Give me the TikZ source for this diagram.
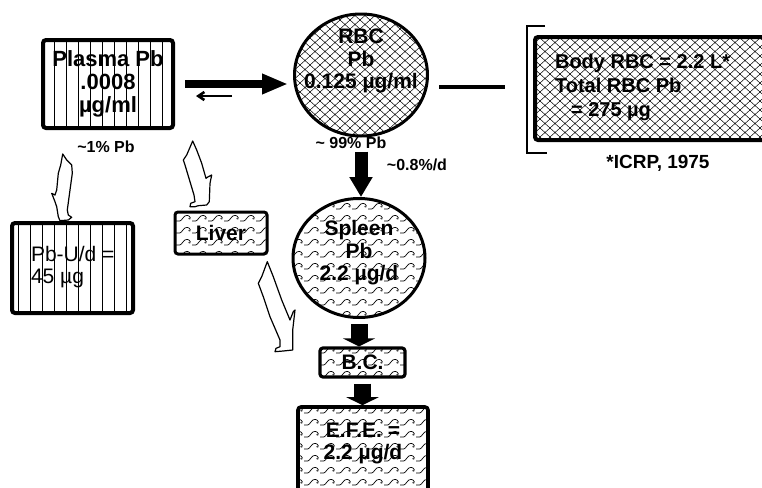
\documentclass[tikz,border=0pt]{standalone}
\usepackage{fontspec}
\setmainfont{Liberation Sans}
\usetikzlibrary{arrows.meta,shapes.geometric,patterns}

% fill patterns
\pgfdeclarepatternformonly{vlines}{\pgfpoint{-0.5pt}{-0.5pt}}{\pgfpoint{6.5pt}{6.5pt}}{\pgfpoint{6pt}{6pt}}{
  \pgfsetlinewidth{0.4pt}
  \pgfpathmoveto{\pgfpoint{3pt}{-0.5pt}}\pgfpathlineto{\pgfpoint{3pt}{6.5pt}}
  \pgfusepath{stroke}}
\pgfdeclarepatternformonly{chainlink}{\pgfpoint{-0.2pt}{-0.2pt}}{\pgfpoint{5.2pt}{4.7pt}}{\pgfpoint{5pt}{4.5pt}}{
  \pgfsetlinewidth{0.25pt}
  \pgfpathmoveto{\pgfpointorigin}\pgfpathlineto{\pgfpoint{5pt}{4.5pt}}
  \pgfpathmoveto{\pgfpoint{0pt}{4.5pt}}\pgfpathlineto{\pgfpoint{5pt}{0pt}}
  \pgfusepath{stroke}}
\pgfdeclarepatternformonly{waves}{\pgfpoint{-0.5pt}{-0.5pt}}{\pgfpoint{8.5pt}{6.5pt}}{\pgfpoint{8pt}{6pt}}{
  \pgfsetlinewidth{0.35pt}
  \pgfpathmoveto{\pgfpoint{0pt}{1.5pt}}
  \pgfpathcurveto{\pgfpoint{1.5pt}{1pt}}{\pgfpoint{2.5pt}{1.5pt}}{\pgfpoint{3.5pt}{3pt}}
  \pgfpathcurveto{\pgfpoint{4.5pt}{4.7pt}}{\pgfpoint{6.6pt}{4.7pt}}{\pgfpoint{7.1pt}{3.2pt}}
  \pgfpathcurveto{\pgfpoint{7.4pt}{2.5pt}}{\pgfpoint{6.6pt}{2.1pt}}{\pgfpoint{6.2pt}{2.7pt}}
  \pgfusepath{stroke}}

\begin{document}
\begin{tikzpicture}[x=0.5pt,y=-0.5pt,
  box/.style={draw,line width=1.8pt,rounded corners=1.5pt,inner sep=0pt},
  lined/.style={pattern=vlines},
  mesh/.style={pattern=chainlink},
  wavy/.style={pattern=waves},
  txt/.style={font=\bfseries\fontsize{10.5}{11.25}\selectfont,align=center},
  small/.style={font=\bfseries\fontsize{8}{9}\selectfont},
  hollow/.style={draw,fill=white,line width=0.6pt,line join=round}]
\useasboundingbox (0,0) rectangle (762,488);
% compartments
\node[box,lined,line width=2pt,minimum width=65pt,minimum height=44pt,
  font=\bfseries\fontsize{11}{11.5}\selectfont,align=center] (plasma) at (108,84) {Plasma Pb\\.0008\\µg/ml};
\node[draw,ellipse,line width=1.5pt,mesh,minimum width=66.5pt,minimum height=61pt,inner sep=0pt] (rbc) at (361,75) {};
\node[txt] (rbctxt) at ([yshift=7pt]rbc.center) {RBC\\Pb\\0.125 µg/ml};
\node[box,mesh,line width=2pt,minimum width=120pt,minimum height=51.5pt] (body) at (655,88.5) {};
\node[font=\bfseries\fontsize{10}{12}\selectfont,align=left,anchor=west] (bodytxt) at ([xshift=7.5pt,yshift=0.75pt]body.west)
  {Body RBC = 2.2 L*\\Total RBC Pb\\\hspace{0.8em}= 275 µg};
\node[font=\bfseries\fontsize{9.5}{10}\selectfont] (icrp) at (658,163) {*ICRP, 1975};
\node[draw,ellipse,line width=1.5pt,wavy,minimum width=66pt,minimum height=59.5pt,inner sep=0pt] (spleen) at (359,258) {};
\node[txt] (spleentxt) at ([yshift=2.5pt]spleen.center) {Spleen\\Pb\\2.2 µg/d};
\node[box,wavy,line width=1.6pt,minimum width=42.5pt,minimum height=14.5pt,txt] (bc) at (362.5,362.5) {B.C.};
\node[box,wavy,line width=1.8pt,minimum width=65pt,minimum height=46.5pt] (efe) at (363,453.5) {};
\node[txt] (efetxt) at (363,443.5) {E.F.E. =\\2.2 µg/d};
\node[box,wavy,line width=1.5pt,minimum width=46pt,minimum height=21pt,txt] (liver) at (221,233) {Liver};
\node[box,lined,line width=2pt,minimum width=60.5pt,minimum height=45pt] (pbu) at (72.5,268) {};
\node[font=\fontsize{10.5}{11}\selectfont,align=left,anchor=west] (pbutxt) at ([xshift=7pt,yshift=0.5pt]pbu.west) {Pb-U/d =\\45 µg};
% labels
\node[small] (pct1) at (106,147) {\textasciitilde1\% Pb};
\node[small] (pct99) at (351,143) {\textasciitilde{} 99\% Pb};
\node[small] (rate) at (417,165) {\textasciitilde0.8\%/d};
% flows
\draw[line width=3.6pt,-{Triangle[length=13pt,width=9.5pt]}] ([xshift=5pt]plasma.east) -- ([xshift=-2.5pt]plasma.east -| rbc.west);
\coordinate (backs) at (232,96);
\coordinate (backe) at (196,96);
\draw[line width=1.3pt,-{Straight Barb[length=3pt,width=4pt]}] (backs) -- (backe);
\draw[line width=6.5pt,-{Triangle[length=10pt,width=11pt]}] ([yshift=-7pt]rbc.south) -- (rbc.south |- spleen.north);
\draw[line width=8.5pt,-{Triangle[length=4pt,width=16pt]}] ([yshift=-2.5pt]spleen.south) -- (spleen.south |- bc.north);
\draw[line width=8.5pt,-{Triangle[length=4pt,width=16pt]}] ([yshift=-2.5pt]bc.south) -- (bc.south |- efe.north);
\coordinate (rbcout) at ([xshift=5pt,yshift=-6pt]rbc.east);
\coordinate (lineend) at (505,87);
\draw[line width=2pt] (rbcout) -- (lineend);
\draw[line width=0.9pt] (545,26) -- (527,26) -- (527,153) -- (547,153);
% open arrows
\draw[hollow] (62.7,154) -- (66.7,160) -- (71.7,165) -- (72.3,173.3) -- (70,190) -- (67.3,210) -- (68.3,215)
  -- (71.7,217.3) -- (68.3,220) -- (60,220.7) -- (58.3,216.7) -- (56.7,206.7) -- (55,201.7) -- (51.7,193.3)
  -- (55,195) -- (56.7,190) -- (58.3,173.3) -- (60.7,165) -- cycle;
\draw[hollow] (192.7,141) -- (196.7,150) -- (201.7,163.3) -- (206,178.3) -- (208.3,176.7) -- (211.7,175)
  -- (210,183.3) -- (209.3,201.7) -- (206.7,205) -- (198.3,205.7) -- (195,206.7) -- (190,206.7)
  -- (190.7,203.3) -- (195,201.7) -- (194,195) -- (185,165) -- (183.3,160) -- (186.7,155) -- cycle;
\draw[hollow] (267.3,261.7) -- (273.3,276.7) -- (281.7,300) -- (290,320) -- (293.3,311.7) -- (295,310)
  -- (292.7,330) -- (292.7,350) -- (283.3,351) -- (275,351.7) -- (276,348.3) -- (280,346.7) -- (280,340)
  -- (270,316.7) -- (263.3,296.7) -- (258.3,283.3) -- (261.7,276.7) -- cycle;
\end{tikzpicture}
\end{document}
